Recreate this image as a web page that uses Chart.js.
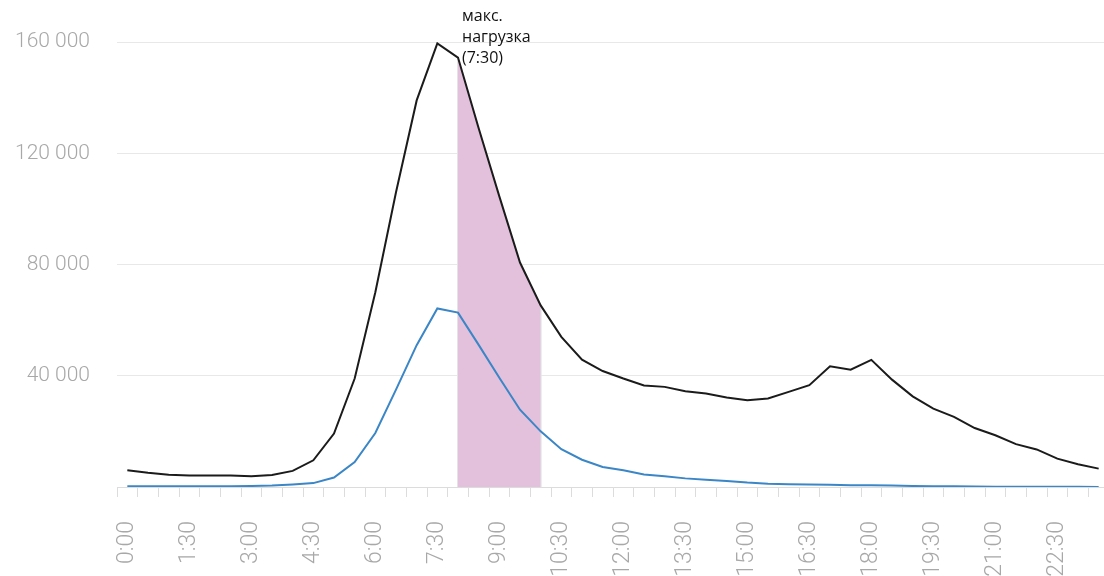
<!DOCTYPE html>
<html>
<head>
<meta charset="utf-8">
<script src="https://cdn.jsdelivr.net/npm/chart.js@4/dist/chart.umd.min.js"></script>
<style>
  html, body { margin: 0; padding: 0; background: #fff; overflow: hidden; }
  #wrap { position: relative; width: 1110px; height: 576px; }
</style>
</head>
<body>
<div id="wrap"><canvas id="chart"></canvas></div>
<script>
// half-hour slots
const times = [
  "0:00","0:30","1:00","1:30","2:00","2:30","3:00","3:30","4:00","4:30","5:00","5:30",
  "6:00","6:30","7:00","7:30","8:00","8:30","9:00","9:30","10:00","10:30","11:00","11:30",
  "12:00","12:30","13:00","13:30","14:00","14:30","15:00","15:30","16:00","16:30","17:00","17:30",
  "18:00","18:30","19:00","19:30","20:00","20:30","21:00","21:30","22:00","22:30","23:00","23:30"
];

// total load (black line)
const totalLoad = [
  6000, 5100, 4400, 4100, 4100, 4100, 3900, 4300, 5800, 9600, 19200, 39000,
  70000, 106000, 139000, 159500, 154400, 129000, 104500, 80700, 65300, 54000, 45800, 41700,
  39000, 36500, 36000, 34400, 33600, 32200, 31200, 31800, 34200, 36600, 43400, 42200,
  45700, 38600, 32600, 28200, 25200, 21200, 18600, 15400, 13500, 10200, 8200, 6600
];

// second series (blue line)
const secondLoad = [
  300, 300, 300, 300, 300, 300, 400, 500, 900, 1400, 3400, 9000,
  19400, 35000, 51000, 64200, 62700, 51100, 39300, 27800, 20000, 13600, 9800, 7200,
  6000, 4500, 3900, 3100, 2600, 2200, 1600, 1200, 1000, 900, 800, 600,
  600, 500, 400, 300, 300, 200, 100, 100, 100, 100, 50, 0
];

// highlighted window 8:00 - 10:00
const peakFrom = 16, peakTo = 20;
const peakLabel = ["макс.", "нагрузка", "(7:30)"];

const peakArea = totalLoad.map((v, i) => (i >= peakFrom && i <= peakTo) ? v : null);

function fmt(v) {
  return String(v).replace(/\B(?=(\d{3})+(?!\d))/g, " ");
}

const peakNote = {
  id: "peakNote",
  beforeDatasetsDraw(chart) {
    // faint edges of the highlighted window
    const x = chart.scales.x, y = chart.scales.y, c = chart.ctx;
    c.save();
    c.strokeStyle = "#e4e4e4";
    c.lineWidth = 2;
    [peakFrom, peakTo].forEach(i => {
      const px = x.getPixelForValue(i);
      c.beginPath();
      c.moveTo(px, y.getPixelForValue(0));
      c.lineTo(px, y.getPixelForValue(totalLoad[i]));
      c.stroke();
    });
    c.restore();
  },
  afterDraw(chart) {
    const x = chart.scales.x.getPixelForValue(peakFrom) + 4;
    const c = chart.ctx;
    c.save();
    c.fillStyle = "#111";
    c.font = "16px 'Open Sans'";
    c.textAlign = "left";
    c.textBaseline = "middle";
    peakLabel.forEach((t, i) => c.fillText(t, x, 16 + i * 21));
    c.restore();
  }
};

new Chart(document.getElementById("chart"), {
  type: "line",
  data: {
    labels: times,
    datasets: [
      { data: totalLoad, borderColor: "#1b1b1b", borderWidth: 2, pointRadius: 0, fill: false, tension: 0 },
      { data: secondLoad, borderColor: "#3a86c6", borderWidth: 2, pointRadius: 0, fill: false, tension: 0 },
      { data: peakArea, borderWidth: 0, borderColor: "rgba(0,0,0,0)", backgroundColor: "#e3c0dc",
        pointRadius: 0, fill: "origin", spanGaps: false }
    ]
  },
  options: {
    responsive: true,
    maintainAspectRatio: false,
    animation: false,
    layout: { padding: { top: 42, left: 0, right: 1, bottom: 0 } },
    plugins: { legend: { display: false }, tooltip: { enabled: false } },
    scales: {
      x: {
        offset: true,
        grid: { offset: true, drawOnChartArea: false, drawTicks: true, tickLength: 10, color: "#dcdcdc" },
        border: { display: true, color: "#dcdcdc" },
        ticks: {
          autoSkip: false,
          minRotation: 90,
          maxRotation: 90,
          padding: 24,
          color: "#a8a8a8",
          font: { family: "Roboto", size: 23, weight: 300 },
          callback: (v, i) => (i % 3 === 0 ? times[i] : "")
        },
        afterFit(s) {
          s.height = 89;
          s.paddingLeft = 0;
          s.paddingRight = 0;
        }
      },
      y: {
        min: 0,
        max: 160000,
        grid: { color: "#e8e8e8", drawTicks: false },
        border: { display: false },
        ticks: {
          stepSize: 40000,
          padding: 27,
          color: "#a8a8a8",
          font: { family: "Roboto", size: 21, weight: 300 },
          callback: v => (v === 0 ? "" : fmt(v))
        },
        afterFit(s) {
          s.width = 117;
          s.paddingTop = 0;
          s.paddingBottom = 0;
        }
      }
    }
  },
  plugins: [peakNote]
});
</script>
</body>
</html>
